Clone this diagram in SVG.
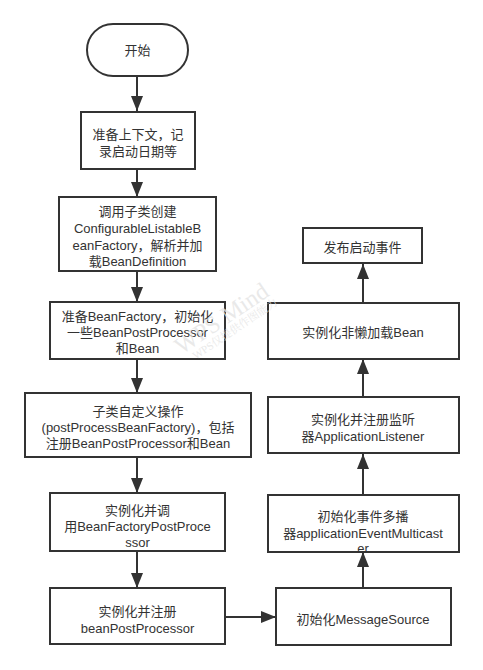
<svg xmlns="http://www.w3.org/2000/svg" width="483" height="670" viewBox="0 0 483 670">
<defs>
<style>
.box{fill:#fff;stroke:#333;stroke-width:2}
.t{font-family:"Liberation Sans","Noto Sans CJK SC",sans-serif;font-size:13px;fill:#333;text-anchor:middle}
.c{stroke:#333;stroke-width:2;fill:none}
.wm{font-family:"Liberation Serif","Noto Serif CJK SC","Noto Sans CJK SC",serif;fill:#e4e4e4;fill-opacity:0.8;text-anchor:middle}
</style>
<marker id="a" viewBox="0 0 15 12" refX="15" refY="6" markerWidth="15" markerHeight="12" orient="auto" markerUnits="userSpaceOnUse">
<path d="M0,0 L15,6 L0,12 Z" fill="#333"/>
</marker>
</defs>
<rect width="483" height="670" fill="#fff"/>
<g id="connectors">
<line class="c" x1="137" y1="76" x2="137" y2="111" marker-end="url(#a)"/>
<line class="c" x1="137" y1="169" x2="137" y2="197" marker-end="url(#a)"/>
<line class="c" x1="137" y1="271" x2="137" y2="302" marker-end="url(#a)"/>
<line class="c" x1="137" y1="359" x2="137" y2="393" marker-end="url(#a)"/>
<line class="c" x1="137" y1="457" x2="137" y2="493" marker-end="url(#a)"/>
<line class="c" x1="137" y1="551" x2="137" y2="588" marker-end="url(#a)"/>
<line class="c" x1="225" y1="617" x2="276" y2="617" marker-end="url(#a)"/>
<line class="c" x1="363" y1="588" x2="363" y2="552" marker-end="url(#a)"/>
<line class="c" x1="363" y1="495" x2="363" y2="454" marker-end="url(#a)"/>
<line class="c" x1="363" y1="397" x2="363" y2="359" marker-end="url(#a)"/>
<line class="c" x1="363" y1="303" x2="363" y2="264" marker-end="url(#a)"/>
</g>
<g id="n-start">
<rect class="box" x="87" y="24" width="101" height="52" rx="26" ry="26"/>
<text class="t" x="137.5" y="55">开始</text>
</g>
<g id="n-prepare">
<rect class="box" x="81" y="112" width="114" height="57"/>
<text class="t" x="138" y="139">准备上下文，记</text>
<text class="t" x="138" y="156">录启动日期等</text>
</g>
<g id="n-create">
<rect class="box" x="59" y="197" width="157" height="74"/>
<text class="t" x="137.5" y="216">调用子类创建</text>
<text class="t" x="137.5" y="233">ConfigurableListableB</text>
<text class="t" x="137.5" y="250">eanFactory，解析并加</text>
<text class="t" x="137.5" y="266">载BeanDefinition</text>
</g>
<g id="n-preparebf">
<rect class="box" x="50" y="302" width="175" height="57"/>
<text class="t" x="137.5" y="321">准备BeanFactory，初始化</text>
<text class="t" x="137.5" y="337">一些BeanPostProcessor</text>
<text class="t" x="137.5" y="353">和Bean</text>
</g>
<g id="n-post">
<rect class="box" x="25" y="393" width="226" height="64"/>
<text class="t" x="138" y="416">子类自定义操作</text>
<text class="t" x="138" y="432">(postProcessBeanFactory)，包括</text>
<text class="t" x="138" y="448">注册BeanPostProcessor和Bean</text>
</g>
<g id="n-invoke">
<rect class="box" x="50" y="493" width="175" height="58"/>
<text class="t" x="137.5" y="515">实例化并调</text>
<text class="t" x="137.5" y="531">用BeanFactoryPostProce</text>
<text class="t" x="137.5" y="547">ssor</text>
</g>
<g id="n-register">
<rect class="box" x="50" y="588" width="175" height="56"/>
<text class="t" x="137.5" y="616">实例化并注册</text>
<text class="t" x="137.5" y="633">beanPostProcessor</text>
</g>
<g id="n-message">
<rect class="box" x="276" y="588" width="175" height="57"/>
<text class="t" x="363" y="624">初始化MessageSource</text>
</g>
<g id="n-multicaster">
<rect class="box" x="268" y="495" width="191" height="57"/>
<text class="t" x="363" y="521">初始化事件多播</text>
<text class="t" x="363" y="538">器applicationEventMulticast</text>
<text class="t" x="363" y="553">er</text>
</g>
<g id="n-listener">
<rect class="box" x="268" y="397" width="191" height="56"/>
<text class="t" x="363" y="424">实例化并注册监听</text>
<text class="t" x="363" y="441">器ApplicationListener</text>
</g>
<g id="n-nonlazy">
<rect class="box" x="268" y="303" width="191" height="56"/>
<text class="t" x="363" y="337">实例化非懒加载Bean</text>
</g>
<g id="n-publish">
<rect class="box" x="303" y="228" width="119" height="35"/>
<text class="t" x="362.5" y="252">发布启动事件</text>
</g>
<g id="watermark">
<text class="wm" x="226" y="325" font-size="24" transform="rotate(-34 226 325)">WPS Mind</text>
<text class="wm" x="237" y="332" font-size="11" transform="rotate(-34 237 332)">WPS仅提供作图能力</text>
</g>
</svg>
